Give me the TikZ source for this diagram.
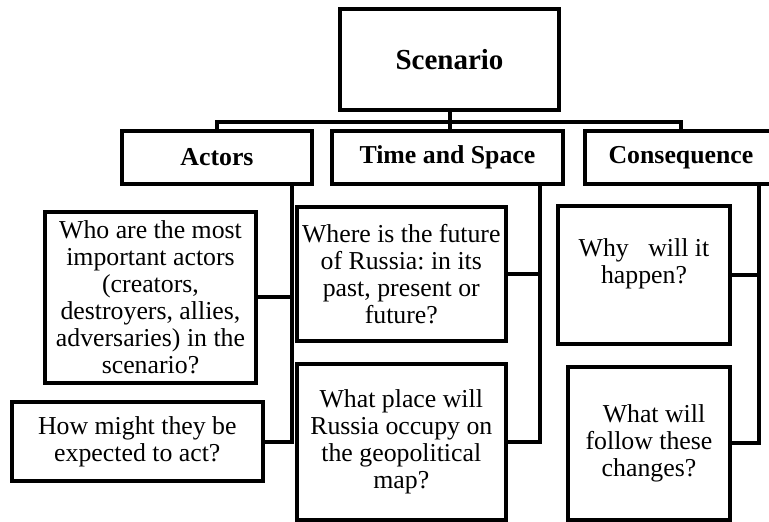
\documentclass[tikz,border=0pt]{standalone}
\usepackage{fontspec}
\setmainfont{Liberation Serif}
\frenchspacing
\begin{document}
\begin{tikzpicture}[x=1pt,y=-1pt,
  box/.style={draw, line width=4pt, rectangle, inner sep=0pt, align=center,
    font=\fontsize{25.8}{27}\selectfont},
  head/.style={box, font=\bfseries\fontsize{25.8}{27}\selectfont},
  link/.style={line width=4pt, line join=miter}]
\useasboundingbox (0,0) rectangle (769,522);
\clip (0,0) rectangle (769,522);
% top
\node[head, font=\bfseries\fontsize{29}{31}\selectfont, minimum width=219pt, minimum height=101pt] (sc) at (449.5,59.5) {Scenario};
\node[head, minimum width=190pt, minimum height=53pt] (act) at (217,157.5) {Actors};
\node[head, minimum width=231pt, minimum height=53pt] (ts) at (447.5,157.5) {Time and Space};
\node[head, minimum width=192pt, minimum height=53pt] (cons) at (681,157.5) {Consequence};
% questions
\node[box, minimum width=210.4pt, minimum height=171.3pt] (who) at (150.5,297.4)
  {Who are the most\\important actors\\(creators,\\destroyers, allies,\\adversaries) in the\\scenario?};
\node[box, minimum width=250.7pt, minimum height=79.3pt] (how) at (137.3,441.7)
  {How might they be\\expected to act?};
\node[box, minimum width=209.3pt, minimum height=134.3pt] (where) at (401.3,274.2)
  {Where is the future\\of Russia: in its\\past, present or\\future?};
\node[box, minimum width=209.3pt, minimum height=156.3pt] (place) at (401.3,441.8)
  {What place will\\Russia occupy on\\the geopolitical\\map?};
\node[box, minimum width=172.6pt, minimum height=137.4pt] (why) at (644,275)
  {Why\hspace{13pt} will it\\happen?\\\rule{0pt}{12pt}};
\node[box, minimum width=162.6pt, minimum height=153.3pt] (follow) at (649,443.3)
  {\hspace*{10pt}What will\\follow these\\changes?};
% connector coordinates
\coordinate (bus) at (0,122);
\coordinate (ax) at (292,0);
\coordinate (tx) at (540,0);
\coordinate (cx) at (759,0);
% bus
\draw[link] (sc.south) -- (sc.south |- ts.north);
\draw[link] (act.north) |- (bus -| sc.south) -| (cons.north);
% actors
\draw[link] (act.south -| ax) |- (how.east);
\draw[link] (who.east) -- (who.east -| ax);
% time and space
\draw[link] (ts.south -| tx) |- (place.east);
\draw[link] (where.east) -- (where.east -| tx);
% consequence
\draw[link] (cons.south -| cx) |- (follow.east);
\draw[link] (why.east) -- (why.east -| cx);
\end{tikzpicture}
\end{document}
